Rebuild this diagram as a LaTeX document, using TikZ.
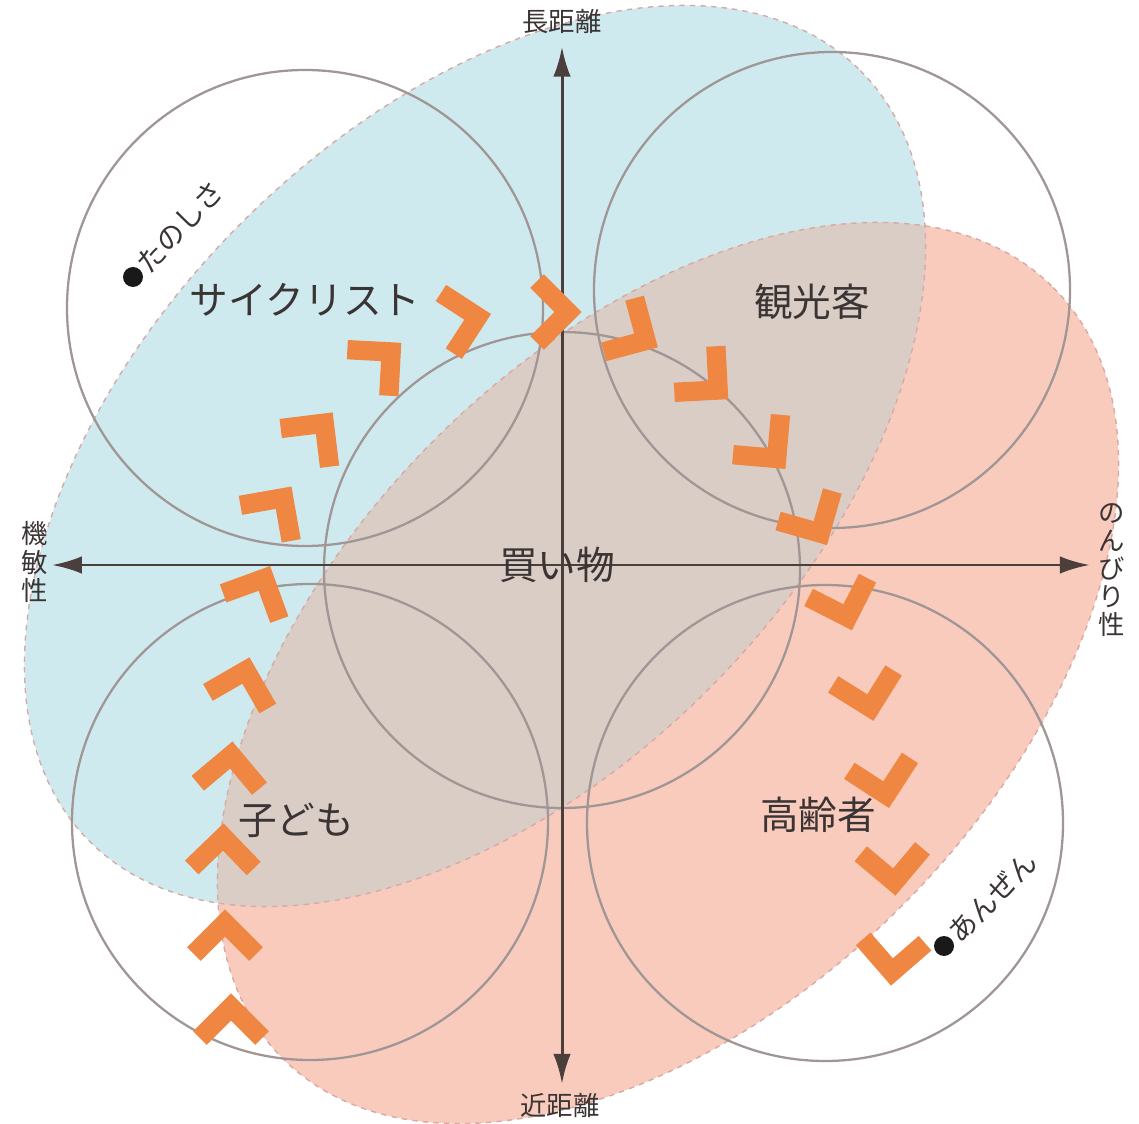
\documentclass[tikz,border=0pt]{standalone}
\usepackage{xcolor}
\usepackage{fontspec}
\newfontfamily\jpfont{Noto Sans CJK JP}
\usetikzlibrary{arrows.meta,positioning}

\definecolor{coolfill}{HTML}{CFEAEE}
\definecolor{warmfill}{HTML}{F8CBBD}
\definecolor{bothfill}{HTML}{DACDC6}
\definecolor{zoneedge}{HTML}{D9A9A5}
\definecolor{ringgray}{HTML}{A09696}
\definecolor{axisbrown}{HTML}{4B3F3C}
\definecolor{chevorange}{HTML}{EF8743}
\definecolor{inkdark}{HTML}{3A3434}

\begin{document}
\begin{tikzpicture}[
    x=0.02cm, y=-0.02cm,
    persona/.style={font=\jpfont\fontsize{22}{24}\selectfont, text=inkdark, inner sep=1pt},
    axislabel/.style={font=\jpfont\fontsize{15}{16}\selectfont, text=inkdark, align=center, inner sep=1pt},
    tagtext/.style={font=\jpfont\fontsize{16}{17}\selectfont, text=inkdark, inner sep=1pt, anchor=west},
    tagdot/.style={circle, fill=black!90, minimum size=0.4cm, inner sep=0pt},
    zone/.style={draw=zoneedge, dashed, line width=0.8pt},
    ring/.style={draw=ringgray, line width=1.3pt},
    axisline/.style={draw=axisbrown, line width=1.7pt, {Latex[length=17pt,width=10pt]}-{Latex[length=17pt,width=10pt]}},
    chevron/.pic={\draw[chevorange, line width=11pt, line join=miter] (-16,-31) -- (15,0) -- (-16,31);}
]
    \useasboundingbox (0,0) rectangle (1139,1124);

    % Zones
    \fill[coolfill, rotate around={45:(475,456)}] (475,456) ellipse [x radius=545, y radius=330];
    \fill[warmfill, rotate around={45:(668,673)}] (668,673) ellipse [x radius=545, y radius=330];
    \begin{scope}
        \clip[rotate around={45:(475,456)}] (475,456) ellipse [x radius=545, y radius=330];
        \fill[bothfill, rotate around={45:(668,673)}] (668,673) ellipse [x radius=545, y radius=330];
    \end{scope}
    \path[zone, rotate around={45:(475,456)}] (475,456) ellipse [x radius=545, y radius=330];
    \path[zone, rotate around={45:(668,673)}] (668,673) ellipse [x radius=545, y radius=330];

    % Rings
    \draw[ring] (305,308) circle [radius=238];
    \draw[ring] (832,290) circle [radius=238];
    \draw[ring] (562,570) circle [radius=238];
    \draw[ring] (310,822) circle [radius=238];
    \draw[ring] (825,823) circle [radius=238];

    % Axes
    \coordinate (o) at (562,565);
    \node[axislabel] (far) at (562,22) {長距離};
    \node[axislabel] (near) at (560,1105) {近距離};
    \node[axislabel] (agile) at (35,562) {機\\敏\\性};
    \node[axislabel] (relaxed) at (1112,570) {の\\ん\\び\\り\\性};

    \path[axisline, shorten <=1pt, shorten >=4pt] (agile.east |- o) -- (relaxed.west |- o);
    \path[axisline, shorten <=6pt, shorten >=4pt] (far.south -| o) -- (near.north -| o);

    % Flow of chevrons
    \foreach \cx/\cy/\dir in {231/1022/90, 225/938/90, 223/852/89, 230/770/85,
        242/685/75, 258/592/65, 275/510/55, 315/435/52, 380/362/42, 463/320/12,
        553/312/0, 633/333/-30, 707/380/-42, 767/447/-50, 813/520/-61,
        843/603/-72, 867/693/-77, 883/780/-78, 893/867/-85, 893/957/-94}
        \pic[rotate=\dir] at (\cx,\cy) {chevron};

    % Personas
    \node[persona] (cyclist) at (305,300) {サイクリスト};
    \node[persona] (tourist) at (812,302) {観光客};
    \node[persona] (shopping) at (557,565) {買い物};
    \node[persona] (children) at (296,820) {子ども};
    \node[persona] (elderly) at (818,815) {高齢者};

    % Tags
    \node[tagdot] (fundot) at (133,277) {};
    \node[tagtext, rotate=47] (funtext) at (fundot.47) {たのしさ};
    \node[tagdot] (safedot) at (944,946) {};
    \node[tagtext, rotate=45] (safetext) at (safedot.45) {あんぜん};

\end{tikzpicture}
\end{document}
